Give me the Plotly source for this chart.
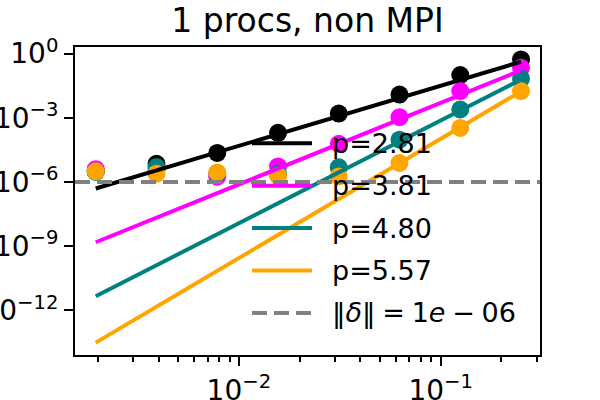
import numpy as np
import plotly.graph_objects as go

# ---- data ----
h = [1/512, 1/256, 1/128, 1/64, 1/32, 1/16, 1/8, 1/4]
err_black   = [10**-5.50, 10**-5.15, 10**-4.64, 10**-3.70, 10**-2.80, 10**-1.91, 10**-1.00, 10**-0.27]
err_magenta = [10**-5.40, 10**-5.45, 10**-5.75, 10**-5.27, 10**-4.21, 10**-2.97, 10**-1.75, 10**-0.66]
err_teal    = [10**-5.53, 10**-5.30, 10**-5.60, 10**-5.60, 10**-5.31, 10**-4.02, 10**-2.61, 10**-1.17]
err_orange  = [10**-5.50, 10**-5.61, 10**-5.55, 10**-5.70, 10**-5.74, 10**-5.11, 10**-3.47, 10**-1.75]
fit_p      = [2.81, 3.81, 4.80, 5.57]
fit_log10C = [1.312, 1.511, 1.673, 1.589]
delta = 1e-6
colors = ["black", "#ff00ff", "#008080", "#ffa500"]
title = "1 procs, non MPI"
ytick_vals = [1e0, 1e-3, 1e-6, 1e-9, 1e-12]
ytick_text = ["10<sup>0</sup>", "10<sup>−3</sup>", "10<sup>−6</sup>", "10<sup>−9</sup>", "10<sup>−12</sup>"]
xtick_vals = [1e-2, 1e-1]
xtick_text = ["10<sup>−2</sup>", "10<sup>−1</sup>"]
xminor_vals = [k * 10.0**e for e in (-3, -2, -1) for k in range(2, 10)]
legend_labels = [f"p={p:.2f}" for p in fit_p] + ["‖<i>δ</i>‖\u2005=\u20051<i>e</i>\u2005−\u200506"]

FONT = "DejaVu Sans"
errs = [err_black, err_magenta, err_teal, err_orange]

fig = go.Figure()
for e, c in zip(errs, colors):
    fig.add_trace(go.Scatter(x=h, y=e, mode="markers",
                             marker=dict(color=c, size=18, line=dict(width=0)),
                             showlegend=False))
hh = np.array([h[0], h[-1]])
for p, lc, c in zip(fit_p, fit_log10C, colors):
    fig.add_trace(go.Scatter(x=hh, y=10**(lc + p*np.log10(hh)), mode="lines",
                             line=dict(color=c, width=4), showlegend=False))

# threshold line
fig.add_shape(type="line", xref="x domain", x0=0, x1=1, yref="y", y0=delta, y1=delta,
              line=dict(color="#808080", width=4, dash="15px,7px"), layer="above")

# manual legend (matplotlib-style, no frame)
L, R, T, B = 75, 540, 47, 355
legend_colors = colors + ["#808080"]
legend_dash = ["solid"] * 4 + ["15px,7px"]
for i, (lab, c, d) in enumerate(zip(legend_labels, legend_colors, legend_dash)):
    py = 143.3 + 42.4 * i
    yp = (B - py) / (B - T)
    fig.add_shape(type="line", xref="paper", yref="paper",
                  x0=(252 - L) / (R - L), x1=(312 - L) / (R - L), y0=yp, y1=yp,
                  line=dict(color=c, width=4, dash=d), layer="above")
    fig.add_annotation(xref="paper", yref="paper", x=(330 - L) / (R - L), y=yp,
                       text=lab, showarrow=False, xanchor="left", yanchor="middle",
                       font=dict(family=FONT, size=27, color="black"))

fig.update_layout(
    width=600, height=400,
    margin=dict(l=L, r=600 - R, t=T, b=400 - B, autoexpand=False),
    paper_bgcolor="white", plot_bgcolor="white",
    font=dict(family=FONT, size=27, color="black"),
    title=dict(text=title, x=0.5, xref="paper", xanchor="center",
               y=1 - 20/400, yref="container", yanchor="middle", automargin=False,
               font=dict(family=FONT, size=33, color="black")),
    showlegend=False,
)
fig.update_xaxes(type="log", range=[-2.812, -0.508], showgrid=False, zeroline=False,
                 automargin=False,
                 showline=True, linecolor="black", linewidth=2, mirror=True,
                 ticks="outside", ticklen=9, tickwidth=2, tickcolor="black",
                 tickmode="array", tickvals=xtick_vals, ticktext=xtick_text,
                 tickfont=dict(family=FONT, size=28),
                 minor=dict(ticks="outside", ticklen=5, tickwidth=1.5, tickcolor="black",
                            tickmode="array", tickvals=xminor_vals, showgrid=False))
fig.update_yaxes(type="log", range=[-14.08, 0.31], showgrid=False, zeroline=False,
                 automargin=False,
                 showline=True, linecolor="black", linewidth=2, mirror=True,
                 ticks="outside", ticklen=9, tickwidth=2, tickcolor="black",
                 tickmode="array", tickvals=ytick_vals, ticktext=ytick_text,
                 tickfont=dict(family=FONT, size=28))

fig.write_html("out.html", config={"displayModeBar": False},
               post_script="document.body.style.margin='0';document.body.style.overflow='hidden';")
